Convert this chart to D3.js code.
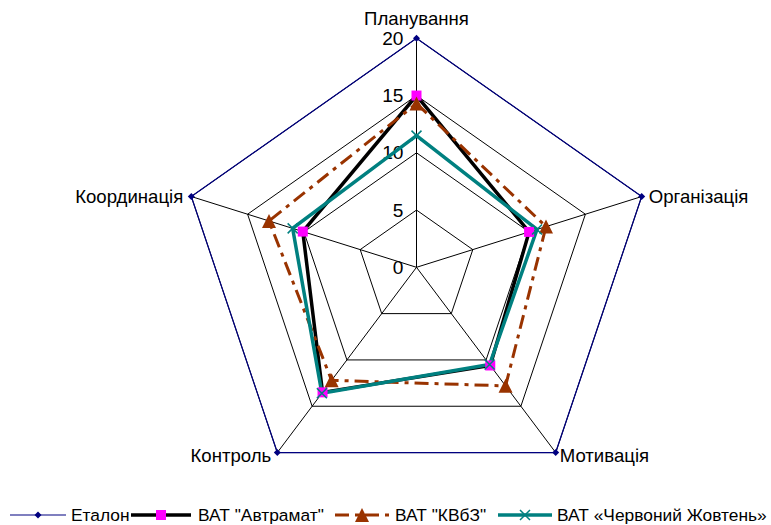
<!DOCTYPE html>
<html>
<head>
<meta charset="utf-8">
<script src="https://cdn.jsdelivr.net/npm/d3@7/dist/d3.min.js"></script>
<style>
  html, body { margin: 0; padding: 0; background: #fff; }
  svg { display: block; font-family: "Liberation Sans", Arial, sans-serif; }
</style>
</head>
<body>
<svg id="chart" width="771" height="525"></svg>
<script>
// Axes of the radar, clockwise from the top
const categories = ["Планування", "Організація", "Мотивація", "Контроль", "Координація"];
const tickValues = [0, 5, 10, 15, 20];

// Series values, one per axis
const etalon   = [20, 20, 20, 20, 20];
const avtramat = [15, 10, 10.6, 13.5, 10.1];
const kvbz     = [14.3, 11.5, 12.8, 12.2, 13.1];
const chervonyi = [11.5, 10.7, 10.5, 13.6, 11];

const seriesNames = ["Еталон", "ВАТ \"Автрамат\"", "ВАТ \"КВбЗ\"", "ВАТ «Червоний Жовтень»"];

const series = [
  { name: seriesNames[0], values: etalon,    color: "#000080", width: 1.2, dash: null,          marker: "diamond", mColor: "#000080", mSize: 7 },
  { name: seriesNames[1], values: avtramat,  color: "#000000", width: 3.5, dash: null,          marker: "square",  mColor: "#ff00ff", mSize: 10 },
  { name: seriesNames[2], values: kvbz,      color: "#993300", width: 3,   dash: "14,6,4,6",    marker: "triangle",mColor: "#993300", mSize: 14 },
  { name: seriesNames[3], values: chervonyi, color: "#008080", width: 3.5, dash: null,          marker: "x",       mColor: "#008080", mSize: 10 }
];

const svg = d3.select("#chart");
const cx = 416.5, cy = 267.3;
const xStretch = 1.034;
const r = d3.scaleLinear().domain([0, 20]).range([0, 229]);
const angle = i => (i / categories.length) * 2 * Math.PI;
const pt = (v, i) => [cx + xStretch * r(v) * Math.sin(angle(i)), cy - r(v) * Math.cos(angle(i))];

// Text placed at (x, y) with the same slight horizontal stretch as the plot
function stretchedText(g, x, y, str, size, anchor) {
  return g.append("text")
    .attr("transform", `translate(${x},${y}) scale(${xStretch},1)`)
    .attr("dy", "0.36em").attr("text-anchor", anchor)
    .attr("font-size", size).attr("fill", "#000")
    .text(str);
}

// Grid pentagons
const grid = svg.append("g");
tickValues.filter(t => t > 0).forEach(t => {
  grid.append("path")
    .attr("d", d3.line()(categories.map((c, i) => pt(t, i))) + "Z")
    .attr("fill", "none").attr("stroke", "#000").attr("stroke-width", 1);
});
// Spokes
categories.forEach((c, i) => {
  const [x, y] = pt(20, i);
  grid.append("line").attr("x1", cx).attr("y1", cy).attr("x2", x).attr("y2", y)
    .attr("stroke", "#000").attr("stroke-width", 1);
});

// Tick labels along the top axis
const ticksG = svg.append("g");
tickValues.forEach(t => stretchedText(ticksG, cx - 13, cy - r(t), t, 18.5, "end"));

// Category labels
const labelPos = [
  { dx: 0, dy: -20, anchor: "middle" },
  { dx: 7, dy: 0, anchor: "start" },
  { dx: 4, dy: 3, anchor: "start" },
  { dx: -6, dy: 3, anchor: "end" },
  { dx: -8, dy: 0, anchor: "end" }
];
const catG = svg.append("g");
categories.forEach((c, i) => {
  const [x, y] = pt(20, i);
  stretchedText(catG, x + labelPos[i].dx, y + labelPos[i].dy, c, 18, labelPos[i].anchor);
});

function drawMarker(g, type, x, y, size, color) {
  const h = size / 2;
  if (type === "diamond") {
    g.append("path").attr("d", `M${x},${y - h}L${x + h},${y}L${x},${y + h}L${x - h},${y}Z`).attr("fill", color);
  } else if (type === "square") {
    g.append("rect").attr("x", x - h).attr("y", y - h).attr("width", size).attr("height", size).attr("fill", color);
  } else if (type === "triangle") {
    g.append("path").attr("d", `M${x},${y - h}L${x + h},${y + h}L${x - h},${y + h}Z`).attr("fill", color);
  } else if (type === "x") {
    g.append("path").attr("d", `M${x - h},${y - h}L${x + h},${y + h}M${x - h},${y + h}L${x + h},${y - h}`)
      .attr("stroke", color).attr("stroke-width", 1.5).attr("fill", "none");
  }
}

// Series lines
const lines = svg.append("g");
series.forEach(s => {
  const pts = s.values.map((v, i) => pt(v, i));
  lines.append("path")
    .attr("d", d3.line()(pts) + "Z")
    .attr("fill", "none").attr("stroke", s.color).attr("stroke-width", s.width)
    .attr("stroke-linejoin", "miter")
    .attr("stroke-dasharray", s.dash);
});
// Markers on top
const marks = svg.append("g");
series.forEach(s => {
  s.values.forEach((v, i) => {
    const [x, y] = pt(v, i);
    drawMarker(marks, s.marker, x, y, s.mSize, s.mColor);
  });
});

// Legend
const legendItems = [
  { x0: 10, x1: 66, tx: 71 },
  { x0: 131, x1: 191, tx: 198 },
  { x0: 335, x1: 389, tx: 395 },
  { x0: 498, x1: 552, tx: 557 }
];
const ly = 515;
const legend = svg.append("g");
series.forEach((s, k) => {
  const it = legendItems[k];
  legend.append("line").attr("x1", it.x0).attr("x2", it.x1).attr("y1", ly).attr("y2", ly)
    .attr("stroke", s.color).attr("stroke-width", s.width).attr("stroke-dasharray", s.dash);
  drawMarker(legend, s.marker, (it.x0 + it.x1) / 2, ly, s.mSize, s.mColor);
  stretchedText(legend, it.tx, ly, s.name, 16.8, "start");
});
</script>
</body>
</html>
